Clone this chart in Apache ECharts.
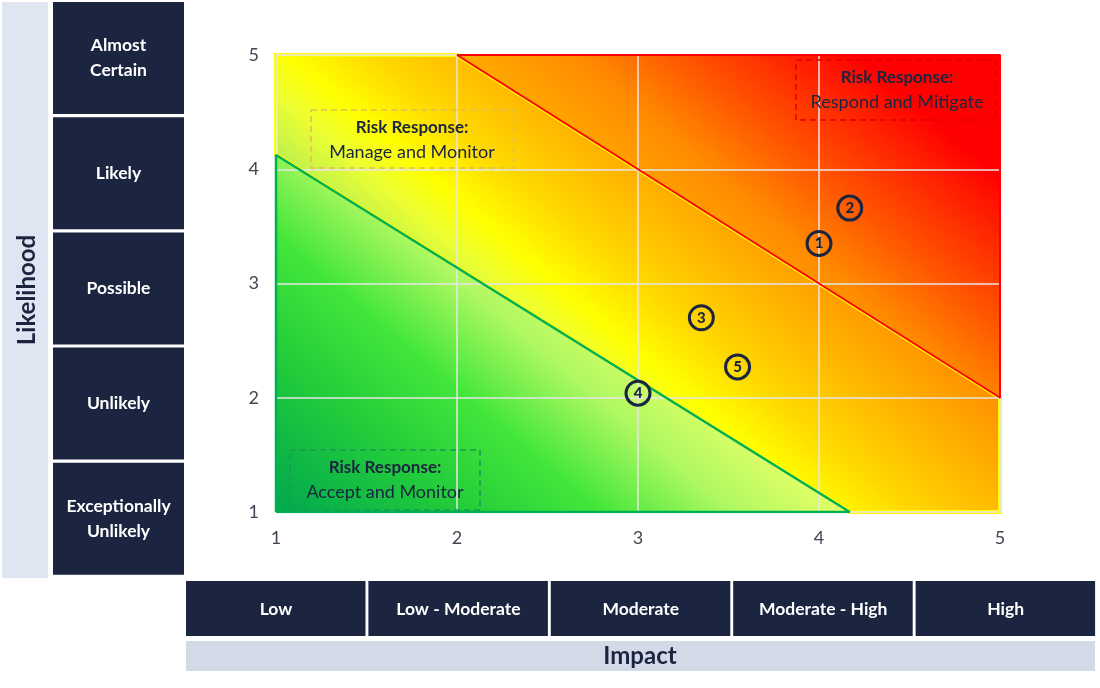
<!DOCTYPE html>
<html>
<head>
<meta charset="utf-8">
<title>Risk Matrix</title>
<script src="https://cdn.jsdelivr.net/npm/echarts/dist/echarts.min.js"></script>
<style>
html, body { margin: 0; padding: 0; background: #fff; }
#main { width: 1100px; height: 688px; }
</style>
</head>
<body>
<div id="main"></div>
<script>
// categories
var likelihoodLabels = ['Almost\nCertain', 'Likely', 'Possible', 'Unlikely', 'Exceptionally\nUnlikely'];
var impactLabels = ['Low', 'Low - Moderate', 'Moderate', 'Moderate - High', 'High'];

// zones (impact, likelihood)
var greenZone = [[1, 1], [1, 4.125], [4.17, 1]];
var amberZone = [[1, 5], [2, 5], [5, 2], [5, 1], [4.17, 1], [1, 4.125]];
var redZone = [[2, 5], [5, 5], [5, 2]];

// risks
var riskIds = [1, 2, 3, 4, 5];
var riskImpact = [4.0, 4.17, 3.35, 3.0, 3.55];
var riskLikelihood = [3.35, 3.66, 2.70, 2.04, 2.27];

var responseTitle = 'Risk Response:';
var responseActions = ['Accept and Monitor', 'Manage and Monitor', 'Respond and Mitigate'];

var NAVY = '#1b2540';
var UX = 0.648, UY = -0.762;   // gradient direction in pixels

var dom = document.getElementById('main');
var myChart = echarts.init(dom);

function zoneSeries(points, stops, stroke, width, z2) {
    return {
        type: 'custom',
        z: -1,
        silent: true,
        data: [points[0]],
        renderItem: function (params, api) {
            var pts = points.map(function (p) { return api.coord(p); });
            var o = api.coord([1, 1]);
            var a = stops[0][0], b = stops[stops.length - 1][0];
            var grad = new echarts.graphic.LinearGradient(
                o[0] + a * UX, o[1] + a * UY, o[0] + b * UX, o[1] + b * UY,
                stops.map(function (s) { return { offset: (s[0] - a) / (b - a), color: s[1] }; }),
                true
            );
            return {
                type: 'polygon',
                z2: z2,
                shape: { points: pts },
                style: { fill: grad, stroke: stroke, lineWidth: width }
            };
        }
    };
}

var graphics = [];
graphics.push({ type: 'rect', shape: { x: 2, y: 2, width: 46, height: 576 }, style: { fill: '#dfe5f1' } });
graphics.push({
    type: 'text', x: 27, y: 290, rotation: Math.PI / 2,
    style: { text: 'Likelihood', font: 'bold 24px Lato', fill: NAVY, align: 'center', verticalAlign: 'middle' }
});
likelihoodLabels.forEach(function (lab, i) {
    var top = 2 + i * 115.2;
    graphics.push({ type: 'rect', shape: { x: 53, y: top, width: 131, height: 112 }, style: { fill: NAVY } });
    graphics.push({
        type: 'text', x: 118.5, y: top + 56,
        style: { text: lab, font: 'bold 17.5px Lato', fill: '#fff', align: 'center', verticalAlign: 'middle', lineHeight: 25 }
    });
});
impactLabels.forEach(function (lab, i) {
    var left = 186 + i * 182.4;
    graphics.push({ type: 'rect', shape: { x: left, y: 581, width: 179.5, height: 55 }, style: { fill: NAVY } });
    graphics.push({
        type: 'text', x: left + 90, y: 609,
        style: { text: lab, font: 'bold 17.5px Lato', fill: '#fff', align: 'center', verticalAlign: 'middle' }
    });
});
graphics.push({ type: 'rect', shape: { x: 186, y: 641, width: 909, height: 30 }, style: { fill: '#d3d9e7' } });
graphics.push({
    type: 'text', x: 640, y: 656,
    style: { text: 'Impact', font: 'bold 24px Lato', fill: NAVY, align: 'center', verticalAlign: 'middle' }
});

// response boxes
var boxes = [
    { x: 290, y: 450, w: 190, h: 60, stroke: '#1a9a50', cx: 385, cy: 480 },
    { x: 311, y: 110, w: 203, h: 58, stroke: '#e0c050', cx: 412, cy: 140 },
    { x: 796, y: 60, w: 200, h: 60, stroke: '#e00000', cx: 897, cy: 90 }
];
boxes.forEach(function (b, i) {
    graphics.push({
        type: 'rect', z: 5, shape: { x: b.x, y: b.y, width: b.w, height: b.h },
        style: { fill: 'none', stroke: b.stroke, lineWidth: 1.5, lineDash: [6, 4] }
    });
    graphics.push({
        type: 'text', z: 6, x: b.cx, y: b.cy,
        style: {
            text: '{t|' + responseTitle + '}\n{a|' + responseActions[i] + '}',
            align: 'center', verticalAlign: 'middle',
            rich: {
                t: { font: 'bold 17px Lato', fill: NAVY, lineHeight: 24 },
                a: { font: '18px Lato', fill: NAVY, lineHeight: 24 }
            }
        }
    });
});

option = {
    animation: false,
    backgroundColor: '#fff',
    grid: { left: 276, right: 100, top: 55, bottom: 176 },
    xAxis: {
        type: 'value', min: 1, max: 5, interval: 1,
        axisLine: { show: false }, axisTick: { show: false },
        axisLabel: { color: '#404654', fontSize: 18, fontFamily: 'Lato', margin: 17 },
        splitLine: { lineStyle: { color: '#e6e6e6', width: 1.5 } }
    },
    yAxis: {
        type: 'value', min: 1, max: 5, interval: 1,
        axisLine: { show: false }, axisTick: { show: false },
        axisLabel: { color: '#404654', fontSize: 18, fontFamily: 'Lato', margin: 17 },
        splitLine: { lineStyle: { color: '#e6e6e6', width: 1.5 } }
    },
    graphic: graphics,
    series: [
        zoneSeries(amberZone, [[278, '#c4f24a'], [321, '#eeff30'], [356, '#ffff00'], [411, '#ffd800'], [491, '#ffb000'], [556, '#ff9000']], '#ffff00', 4, 0),
        zoneSeries(greenZone, [[0, '#00a84f'], [120, '#22cc3a'], [210, '#42e63a'], [295, '#aef862'], [372, '#e4ff66']], null, 0, 1),
        zoneSeries(redZone, [[466, '#ffaa00'], [541, '#ff8c00'], [611, '#ff5500'], [691, '#ff1a00'], [724, '#ff0000'], [817, '#ff0000']], null, 0, 1),
        {
            type: 'line', silent: true, symbol: 'none', z: 3,
            data: greenZone.concat([greenZone[0]]),
            lineStyle: { color: '#00b050', width: 2.5 }
        },
        {
            type: 'line', silent: true, symbol: 'none', z: 3,
            data: redZone.concat([redZone[0]]),
            lineStyle: { color: '#ff0000', width: 2 }
        },
        {
            type: 'scatter', z: 10,
            data: riskIds.map(function (id, i) { return [riskImpact[i], riskLikelihood[i], id]; }),
            symbol: 'circle', symbolSize: 24,
            itemStyle: { color: 'rgba(0,0,0,0)', borderColor: NAVY, borderWidth: 3, opacity: 1 },
            label: {
                show: true, position: 'inside',
                formatter: function (p) { return p.value[2]; },
                color: NAVY, fontWeight: 900, fontSize: 15, fontFamily: 'Lato'
            }
        }
    ]
};

if (option && typeof option === 'object') {
    myChart.setOption(option, true);
}
</script>
</body>
</html>
